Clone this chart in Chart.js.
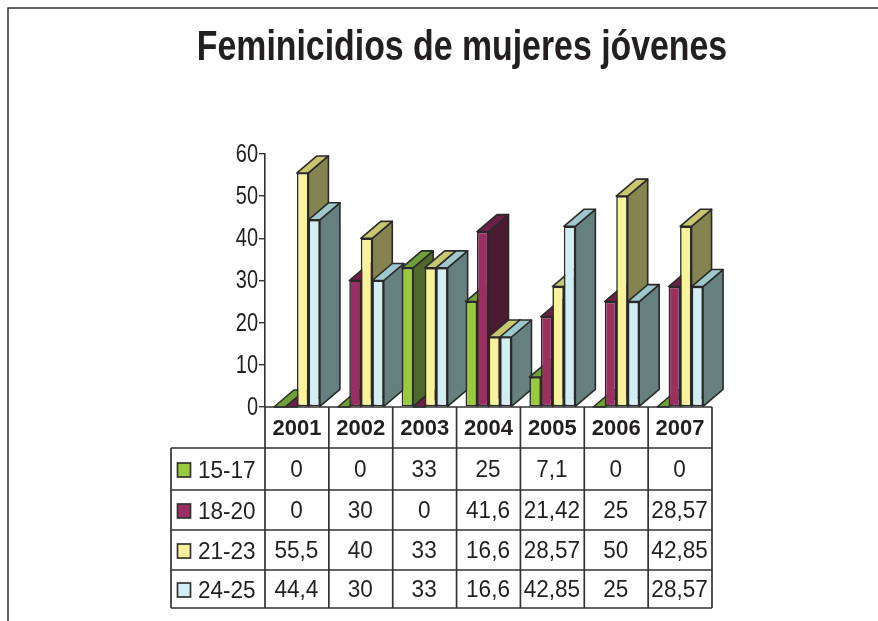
<!DOCTYPE html>
<html>
<head>
<meta charset="utf-8">
<title>Feminicidios de mujeres jóvenes</title>
<style>
  html, body { margin: 0; padding: 0; background: #fff; }
  #wrap { width: 878px; height: 621px; }
</style>
</head>
<body>
<div id="wrap"><canvas id="chart" width="878" height="621"></canvas></div>
<script src="https://cdn.jsdelivr.net/npm/chart.js@4"></script>
<script>
const titleText = 'Feminicidios de mujeres jóvenes';
const years = ['2001', '2002', '2003', '2004', '2005', '2006', '2007'];
const seriesNames = ['15-17', '18-20', '21-23', '24-25'];

const age15to17 = [0, 0, 33, 25, 7.1, 0, 0];
const age18to20 = [0, 30, 0, 41.6, 21.42, 25, 28.57];
const age21to23 = [55.5, 40, 33, 16.6, 28.57, 50, 42.85];
const age24to25 = [44.4, 30, 33, 16.6, 42.85, 25, 28.57];

const frontColors = ['#99ca3c', '#9b2f63', '#f8f39b', '#d2edf4'];
const topColors = ['#70a03a', '#6c1f47', '#c8c66e', '#9fc8cc'];
const sideColors = ['#4f692c', '#4a1a30', '#85834f', '#668080'];

const ink = '#231f20';
const lineColor = '#333333';
const depthX = 20;
const depthY = 17;

// table row lines under the plot
const rowLines = [448, 490, 530, 570, 608];
const tableLeft = 171;

function polygon(ctx, pts, fill) {
  ctx.beginPath();
  pts.forEach((p, i) => i ? ctx.lineTo(p[0], p[1]) : ctx.moveTo(p[0], p[1]));
  ctx.closePath();
  ctx.fillStyle = fill;
  ctx.fill();
  ctx.stroke();
}

// the narrow font is not installed, so squeeze the text sideways
function squeezedText(ctx, text, x, y, squeeze) {
  ctx.save();
  ctx.translate(x, y);
  ctx.scale(squeeze, 1);
  ctx.fillText(text, 0, 0);
  ctx.restore();
}

// 3D columns: one year at a time so nearer bars cover the sides of the earlier ones
const bars3d = {
  id: 'bars3d',
  beforeDatasetsDraw(chart) {
    const ctx = chart.ctx;
    years.forEach((year, j) => {
      chart.data.datasets.forEach((ds, i) => {
        const bar = chart.getDatasetMeta(i).data[j];
        const left = bar.x - bar.width / 2;
        const right = bar.x + bar.width / 2;
        ctx.save();
        ctx.strokeStyle = '#2a2a2a';
        ctx.lineWidth = 1.6;
        ctx.lineJoin = 'round';
        polygon(ctx, [[right, bar.y], [right + depthX, bar.y - depthY], [right + depthX, bar.base - depthY], [right, bar.base]], sideColors[i]);
        polygon(ctx, [[left, bar.y], [left + depthX, bar.y - depthY], [right + depthX, bar.y - depthY], [right, bar.y]], topColors[i]);
        ctx.restore();
        bar.draw(ctx);
      });
    });
    return false;
  }
};

// frame, title, y labels and the data table
const decorations = {
  id: 'decorations',
  afterDraw(chart) {
    const ctx = chart.ctx;
    const area = chart.chartArea;
    const x = chart.scales.x;
    const y = chart.scales.y;
    const colWidth = (area.right - area.left) / years.length;

    ctx.save();
    ctx.strokeStyle = '#333';
    ctx.lineWidth = 1.5;
    ctx.beginPath();
    ctx.moveTo(8, 621);
    ctx.lineTo(8, 8);
    ctx.lineTo(878, 8);
    ctx.stroke();

    ctx.fillStyle = ink;
    ctx.textAlign = 'center';
    ctx.textBaseline = 'alphabetic';
    ctx.font = 'bold 43px "Liberation Sans", Arial, sans-serif';
    squeezedText(ctx, titleText, 462, 60, 0.787);

    ctx.textAlign = 'right';
    ctx.textBaseline = 'middle';
    ctx.font = '25px "Liberation Sans", Arial, sans-serif';
    y.ticks.forEach(t => {
      squeezedText(ctx, String(t.value), 258, y.getPixelForValue(t.value) + 1, 0.8);
    });

    ctx.strokeStyle = lineColor;
    ctx.lineWidth = 1.7;
    ctx.beginPath();
    ctx.moveTo(area.left, area.bottom);
    ctx.lineTo(area.right, area.bottom);
    rowLines.forEach(ry => {
      ctx.moveTo(tableLeft, ry);
      ctx.lineTo(area.right, ry);
    });
    ctx.moveTo(tableLeft, rowLines[0]);
    ctx.lineTo(tableLeft, rowLines[4]);
    for (let c = 0; c <= years.length; c++) {
      ctx.moveTo(area.left + c * colWidth, area.bottom);
      ctx.lineTo(area.left + c * colWidth, rowLines[4]);
    }
    ctx.stroke();

    ctx.font = '23px "Liberation Sans", Arial, sans-serif';
    chart.data.datasets.forEach((ds, i) => {
      const mid = (rowLines[i] + rowLines[i + 1]) / 2;
      ctx.fillStyle = frontColors[i];
      ctx.fillRect(177.5, mid - 6, 13, 14);
      ctx.strokeRect(177.5, mid - 6, 13, 14);
      ctx.fillStyle = ink;
      ctx.textAlign = 'left';
      squeezedText(ctx, seriesNames[i], 198, mid + 3, 0.98);
      ctx.textAlign = 'center';
      ds.data.forEach((v, j) => {
        squeezedText(ctx, String(v).replace('.', ','), x.getPixelForValue(j) - 0.5, mid + 2, 0.98);
      });
    });
    ctx.restore();
  }
};

const allSeries = [age15to17, age18to20, age21to23, age24to25];

new Chart(document.getElementById('chart'), {
  type: 'bar',
  data: {
    labels: years,
    datasets: allSeries.map((values, i) => ({
      label: seriesNames[i],
      data: values,
      backgroundColor: frontColors[i],
      borderColor: '#2a2a2a',
      borderWidth: 1.6,
      borderSkipped: false,
      categoryPercentage: 0.72,
      barPercentage: 1
    }))
  },
  options: {
    responsive: false,
    animation: false,
    layout: { padding: { top: 154, right: 166, bottom: 0, left: 0 } },
    plugins: { legend: { display: false }, title: { display: false }, tooltip: { enabled: false } },
    scales: {
      x: {
        grid: { display: false },
        border: { display: false },
        afterFit(scale) { scale.height = 214; },
        ticks: {
          color: ink,
          padding: 1,
          maxRotation: 0,
          font: { family: '"Liberation Sans", Arial, sans-serif', size: 22, weight: 'bold' }
        }
      },
      y: {
        min: 0,
        max: 60,
        afterFit(scale) { scale.width = 265; },
        border: { color: lineColor, width: 1.6 },
        grid: { drawOnChartArea: false, drawTicks: true, tickLength: 6, color: lineColor, lineWidth: 1.4 },
        ticks: {
          stepSize: 10,
          color: 'rgba(0,0,0,0)', // labels are drawn squeezed in decorations
          padding: 1,
          font: { size: 25 }
        }
      }
    }
  },
  plugins: [bars3d, decorations]
});
</script>
</body>
</html>
